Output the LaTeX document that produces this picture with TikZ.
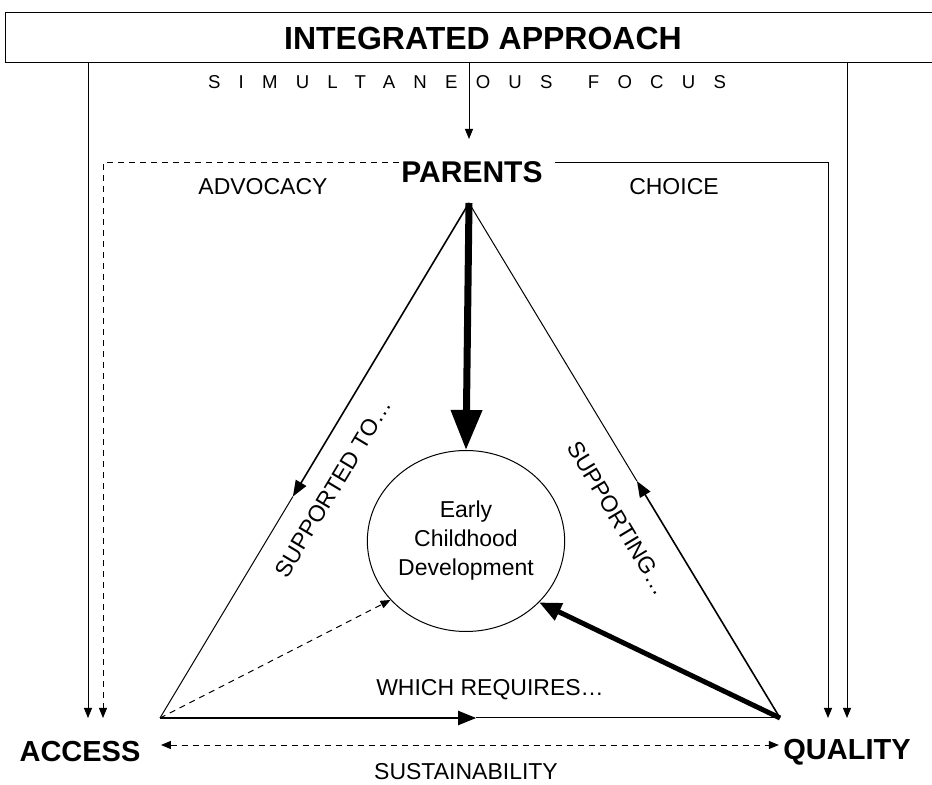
\documentclass[tikz,border=0pt]{standalone}
\usepackage{fontspec}
\setmainfont{Liberation Sans}
\usetikzlibrary{arrows.meta,calc,shapes.geometric}
\tikzset{
  bighead/.style={font=\fontsize{16}{19}\selectfont\bfseries},
  corner/.style={font=\fontsize{14.5}{17}\selectfont\bfseries, inner sep=2pt},
  lbl/.style={font=\fontsize{11.5}{14.5}\selectfont, inner sep=1pt},
  spaced/.style={font=\fontsize{9.3}{11}\selectfont\addfontfeatures{LetterSpace=98}},
  dsh/.style={dash pattern=on 3pt off 2.5pt},
  smalltip/.style={>={Triangle[length=5pt,width=4pt]}},
  midtip/.style={>={Triangle[length=8pt,width=6pt]}},
}
\begin{document}
\begin{tikzpicture}[x=0.5pt, y=-0.5pt, line width=0.5pt, smalltip]
\clip (0,0) rectangle (932,785);
\node (top) at (483,38)[draw, bighead, minimum width=478pt, minimum height=25pt]{INTEGRATED APPROACH};
\node (focus) at (467,82)[spaced]{SIMULTANEOUS\hspace{6pt} FOCUS};

\node (parents) at (472,172)[font=\fontsize{15}{18}\selectfont\bfseries, inner sep=1pt]{PARENTS};
\node (advocacy) at (263,187)[lbl]{ADVOCACY};
\node (choice) at (674,187)[lbl]{CHOICE};
\node (access) at (80,752)[corner]{ACCESS};
\node (quality) at (847,752)[corner]{QUALITY};
\node (sustain) at (466,772)[lbl]{SUSTAINABILITY};
\node (ecd) at (466,541)[draw, ellipse, lbl, align=center, minimum width=86.5pt, minimum height=90.5pt]{Early\\Childhood\\Development};

\coordinate (apex) at (469,203);
\coordinate (bl) at (160,718);
\coordinate (br) at (780,718);

% long arrows from the top box
\coordinate (pin) at (469,139);
\coordinate (a1) at (88,718);
\coordinate (a2) at (103,718);
\coordinate (q1) at (828,718);
\coordinate (q2) at (847,718);
\draw[->] (top.south -| pin) -- (pin);
\draw[->] (top.south -| a1) -- (a1);
\draw[->] (top.south -| q2) -- (q2);
\draw[dsh, ->] ([yshift=4.5pt]parents.west) -| (a2);
\draw[->] ([xshift=5pt, yshift=4.5pt]parents.east) -| (q1);

% triangle
\draw[line width=0.8pt, midtip, ->] (apex) -- ($(apex)!0.57!(bl)$) coordinate (lm);
\draw (lm) -- (bl);
\draw[line width=0.8pt, midtip, ->] (br) -- ($(br)!0.46!(apex)$) coordinate (rm);
\draw (rm) -- (apex);
\draw[line width=1pt, ->, >={Triangle[length=9pt,width=7pt]}] (bl) -- ($(bl)!0.51!(br)$) coordinate (bm);
\draw (bm) -- (br);
\node (supto) at (333,488)[lbl, rotate=59]{SUPPORTED TO…};
\node (supting) at (618,518)[lbl, rotate=-59]{SUPPORTING…};
\node (requires) at (490,690)[lbl]{WHICH REQUIRES…};

% into the centre
\draw[line width=3.5pt, -{Triangle[length=20pt,width=15pt]}] (apex) -- (ecd.north);
\draw[line width=2.5pt, -{Triangle[length=11pt,width=9pt]}] (br) -- (ecd.-40);
\draw[dsh, ->] (bl) -- (ecd.218);

\draw[dsh, <->] ([xshift=8pt, yshift=3.5pt]access.east) -- ([yshift=3.5pt]quality.west);
\end{tikzpicture}
\end{document}
